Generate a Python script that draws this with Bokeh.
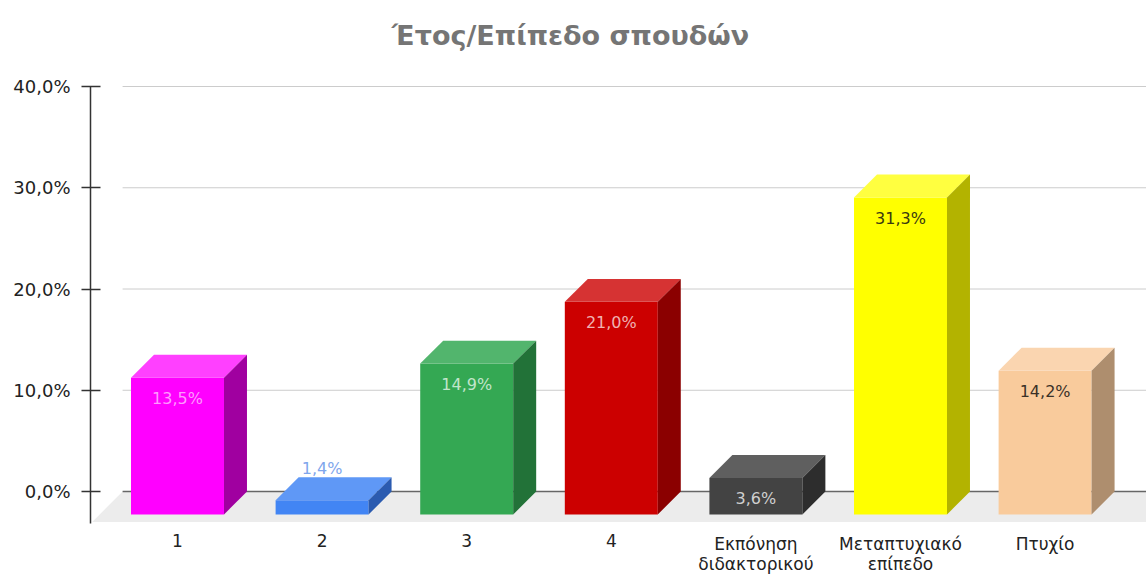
from bokeh.plotting import figure
from bokeh.models import ColumnDataSource, FixedTicker, Range1d
from bokeh.core.properties import value
from bokeh.embed import file_html
from bokeh.resources import INLINE

# ---- data ----
categories = ["1", "2", "3", "4", "Εκπόνηση\nδιδακτορικού", "Μεταπτυχιακό\nεπίπεδο", "Πτυχίο"]
percent_values = [13.5, 1.4, 14.9, 21.0, 3.6, 31.3, 14.2]
value_labels = ["13,5%", "1,4%", "14,9%", "21,0%", "3,6%", "31,3%", "14,2%"]
front_colors = ["#ff00ff", "#4285f4", "#34a853", "#cc0000", "#434343", "#ffff00", "#f9cb9c"]
top_colors = ["#ff40ff", "#5f98f6", "#52b56d", "#d63333", "#5f5f5f", "#ffff40", "#fad5b0"]
side_colors = ["#a000a0", "#2b5bb0", "#227238", "#8b0000", "#2d2d2d", "#b3b300", "#ae8e6e"]
label_colors = ["#ff99ff", "#7fa6ec", "#c2e5cb", "#f0b2b2", "#d0d0d0", "#3a3a10", "#3a3128"]
y_ticks = [0, 10, 20, 30, 40]
y_tick_labels = ["0,0%", "10,0%", "20,0%", "30,0%", "40,0%"]
title_text = "Έτος/Επίπεδο σπουδών"

# ---- geometry / style ----
W, H = 1146, 576
LEFT = 90                # width of the y-axis panel (px)
PX_PER_UNIT = 144.6      # px per category
PX_PER_PCT = 10.125      # px per percent
HW = 0.3215              # half width of a bar's front face (category units)
DX = 0.159               # 3D depth, horizontal (category units)
DY = 2.27                # 3D depth, vertical (percent units)
X0 = -87 / PX_PER_UNIT
X1 = X0 + (W - LEFT) / PX_PER_UNIT
Y_TOP_PAD = 86 / PX_PER_PCT
Y0 = -(H - 491) / PX_PER_PCT
Y1 = 40.0 + Y_TOP_PAD
AXIS_BOTTOM = -32 / PX_PER_PCT
FONT = "DejaVu Sans"

p = figure(width=W, height=H, x_range=Range1d(X0, X1), y_range=Range1d(Y0, Y1),
           output_backend="svg", toolbar_location=None, x_axis_location=None,
           min_border_left=LEFT, min_border_right=0, min_border_top=0, min_border_bottom=0)
p.outline_line_color = None
p.grid.visible = False
p.background_fill_color = "white"
p.border_fill_color = "white"

n = len(percent_values)
idx = list(range(n))

# floor
floor_depth = 3.0
fx_back = X0 + 0.222
fx_front = fx_back - DX * floor_depth / DY
p.patch([fx_front, X1 + 1, X1 + 1, fx_back], [-floor_depth, -floor_depth, 0, 0],
        fill_color="#ececec", line_color=None)

# gridlines on back wall
grid_vals = [t for t in y_ticks if t != 0]
p.segment(x0=[fx_back] * len(grid_vals), y0=grid_vals, x1=[X1 + 1] * len(grid_vals), y1=grid_vals,
          line_color="#cccccc", line_width=1)
p.segment(x0=[fx_back], y0=[0], x1=[X1 + 1], y1=[0], line_color="#666666", line_width=1.5)

# bars
front_src = ColumnDataSource(dict(
    left=[i - HW for i in idx], right=[i + HW for i in idx],
    bottom=[-DY] * n, top=[v - DY for v in percent_values], color=front_colors))
p.quad(left="left", right="right", bottom="bottom", top="top", source=front_src,
       fill_color="color", line_color=None)

top_src = ColumnDataSource(dict(
    xs=[[i - HW, i + HW, i + HW + DX, i - HW + DX] for i in idx],
    ys=[[v - DY, v - DY, v, v] for v in percent_values], color=top_colors))
p.patches("xs", "ys", source=top_src, fill_color="color", line_color=None)

side_src = ColumnDataSource(dict(
    xs=[[i + HW, i + HW + DX, i + HW + DX, i + HW] for i in idx],
    ys=[[-DY, 0, v, v - DY] for v in percent_values], color=side_colors))
p.patches("xs", "ys", source=side_src, fill_color="color", line_color=None)

# value labels
lab_y = [(v - DY - 2.05) if v >= 3 else (v + 0.9) for v in percent_values]
val_src = ColumnDataSource(dict(x=idx, y=lab_y, text=value_labels, color=label_colors))
p.text(x="x", y="y", text="text", source=val_src, text_color="color",
       text_align="center", text_baseline="middle",
       text_font=value(FONT), text_font_size="16px")

# category labels below the floor
cat_y = -42 / PX_PER_PCT
cat_src = ColumnDataSource(dict(x=idx, y=[cat_y] * n, text=categories))
p.text(x="x", y="y", text="text", source=cat_src,
       text_align="center", text_baseline="top",
       text_font=value(FONT), text_font_size="17px", text_color="#222222",
       text_line_height=1.0)

# title
p.text(x=[(570 - 177) / PX_PER_UNIT], y=[40.0 + (86 - 35) / PX_PER_PCT], text=[title_text],
       text_align="center", text_baseline="middle",
       text_font=value(FONT), text_font_size="27px", text_font_style="bold",
       text_color="#757575")

# y axis
ax = p.yaxis[0]
ax.bounds = (AXIS_BOTTOM, 40)
ax.ticker = FixedTicker(ticks=y_ticks)
ax.major_label_overrides = dict(zip(y_ticks, y_tick_labels))
ax.minor_tick_line_color = None
ax.major_tick_in = 10
ax.major_tick_out = 9
ax.axis_line_width = 1.5
ax.axis_line_color = "#333333"
ax.major_tick_line_color = "#333333"
ax.major_tick_line_width = 1.5
ax.major_label_text_font = FONT
ax.major_label_text_font_size = "18px"
ax.major_label_text_color = "#222222"
ax.major_label_standoff = 11

open("out.html", "w").write(file_html(p, INLINE))
